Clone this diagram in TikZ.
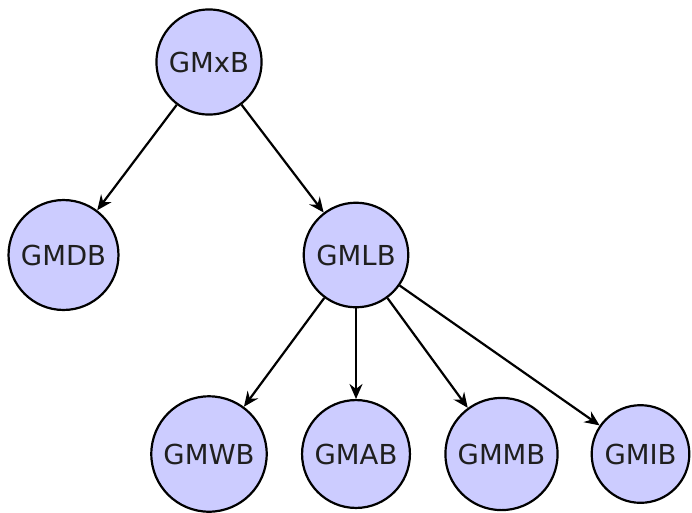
\documentclass[tikz,border=0pt]{standalone}
\usepackage{fontspec}
\setmainfont{DejaVu Sans}
\usetikzlibrary{arrows.meta}
\begin{document}
\begin{tikzpicture}[x=1pt,y=-1pt,
  gnode/.style={circle,draw=black,line width=2.2pt,fill=blue!20,inner sep=9pt,
    font=\fontsize{27.5}{33}\selectfont,text=black!88},
  link/.style={->,line width=2.2pt,>={Stealth[length=15pt,width=13pt,inset=5pt]}}]
\useasboundingbox (0,0) rectangle (692,512);
% root, first level, second level
\node[gnode] (gmxb) at (209,62)   {GMxB};
\node[gnode] (gmdb) at (63.5,255) {GMDB};
\node[gnode] (gmlb) at (356,255)  {GMLB};
\node[gnode] (gmwb) at (209,454)  {GMWB};
\node[gnode] (gmab) at (356,454)  {GMAB};
\node[gnode] (gmmb) at (501.5,454) {GMMB};
\node[gnode] (gmib) at (640.5,454) {GMIB};
% parent-to-child arrows
\draw[link] (gmxb) -- (gmdb);
\draw[link] (gmxb) -- (gmlb);
\draw[link] (gmlb) -- (gmwb);
\draw[link] (gmlb) -- (gmab);
\draw[link] (gmlb) -- (gmmb);
\draw[link] (gmlb) -- (gmib);
\end{tikzpicture}
\end{document}
